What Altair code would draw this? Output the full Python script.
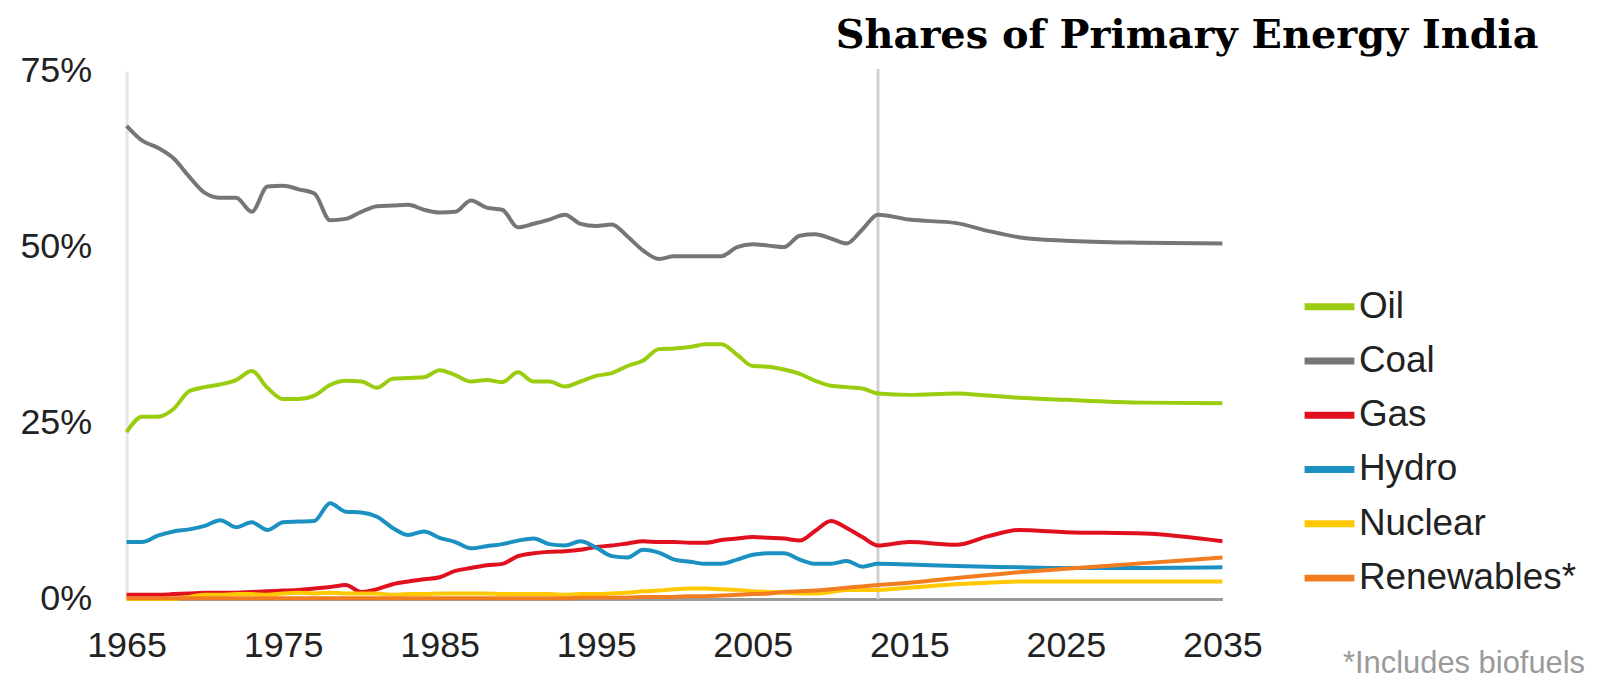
import altair as alt
import pandas as pd

TITLE = "Shares of Primary Energy India"
NOTE = "*Includes biofuels"

series_names = ["Oil", "Coal", "Gas", "Hydro", "Nuclear", "Renewables*"]
series_colors = ["#9ACD0F", "#767676", "#E0101E", "#1B91C2", "#FFC800", "#F27C20"]

hist_years = list(range(1965, 2014))
proj_years = [2015, 2018, 2020, 2022, 2025, 2030, 2035]

oil_hist = [23.7, 25.9, 25.9, 27.0, 29.5, 30.1, 30.5, 31.1, 32.4, 30.0,
            28.4, 28.4, 28.9, 30.4, 31.0, 30.9, 30.0, 31.3, 31.4, 31.5,
            32.5, 31.8, 30.9, 31.1, 30.8, 32.2, 30.9, 30.9, 30.2, 30.9,
            31.7, 32.1, 33.1, 33.9, 35.5, 35.6, 35.8, 36.2, 36.2, 34.7,
            33.1, 33.0, 32.6, 32.0, 31.0, 30.3, 30.1, 29.9, 29.2]
coal_hist = [67.2, 65.1, 64.1, 62.6, 60.0, 57.7, 57.0, 57.0, 55.0, 58.6,
             58.7, 58.2, 57.6, 53.8, 54.0, 55.0, 55.8, 55.9, 56.0, 55.3,
             54.9, 55.0, 56.6, 55.6, 55.3, 52.8, 53.3, 53.9, 54.6, 53.3,
             53.0, 53.2, 51.5, 49.5, 48.3, 48.7, 48.7, 48.7, 48.7, 50.0,
             50.4, 50.2, 50.0, 51.6, 51.8, 51.2, 50.5, 52.5, 54.6]
gas_hist = [0.6, 0.6, 0.6, 0.7, 0.8, 0.9, 0.9, 0.9, 1.0, 1.1,
            1.2, 1.3, 1.5, 1.7, 2.0, 1.0, 1.4, 2.1, 2.5, 2.8,
            3.1, 4.0, 4.4, 4.8, 5.0, 6.1, 6.5, 6.7, 6.8, 7.0,
            7.4, 7.6, 7.9, 8.2, 8.1, 8.1, 8.0, 8.0, 8.4, 8.6,
            8.8, 8.7, 8.6, 8.3, 9.7, 11.1, 10.1, 8.8, 7.6]
hydro_hist = [8.1, 8.1, 9.0, 9.6, 9.9, 10.4, 11.2, 10.2, 10.9, 9.8,
              10.9, 11.0, 11.1, 13.6, 12.4, 12.3, 11.7, 10.1, 9.1, 9.6,
              8.7, 8.1, 7.2, 7.5, 7.8, 8.3, 8.6, 7.8, 7.6, 8.2,
              7.3, 6.1, 5.9, 7.0, 6.6, 5.6, 5.3, 5.0, 5.0, 5.6,
              6.3, 6.5, 6.5, 5.6, 5.0, 5.0, 5.4, 4.6, 5.0]
nuclear_hist = [0.0, 0.0, 0.0, 0.0, 0.3, 0.6, 0.6, 0.7, 0.7, 0.6,
                0.8, 0.9, 0.8, 0.9, 0.8, 0.8, 0.8, 0.6, 0.7, 0.7,
                0.8, 0.8, 0.8, 0.8, 0.7, 0.7, 0.7, 0.7, 0.6, 0.7,
                0.7, 0.8, 0.9, 1.1, 1.2, 1.4, 1.5, 1.5, 1.4, 1.3,
                1.1, 1.0, 0.9, 0.8, 0.8, 1.0, 1.3, 1.3, 1.3]
renew_hist = [0.1, 0.1, 0.1, 0.1, 0.1, 0.1, 0.1, 0.1, 0.1, 0.1,
              0.1, 0.1, 0.1, 0.1, 0.1, 0.1, 0.1, 0.1, 0.1, 0.1,
              0.1, 0.1, 0.1, 0.1, 0.1, 0.1, 0.1, 0.1, 0.1, 0.2,
              0.2, 0.2, 0.2, 0.3, 0.3, 0.3, 0.4, 0.4, 0.5, 0.6,
              0.7, 0.8, 1.0, 1.1, 1.2, 1.4, 1.6, 1.8, 2.0]

oil_proj = [29.0, 29.2, 28.9, 28.6, 28.3, 27.9, 27.8]
coal_proj = [53.9, 53.4, 52.3, 51.4, 50.9, 50.6, 50.5]
gas_proj = [8.1, 7.7, 8.9, 9.8, 9.5, 9.3, 8.2]
hydro_proj = [4.9, 4.7, 4.6, 4.5, 4.4, 4.4, 4.5]
nuclear_proj = [1.6, 2.1, 2.3, 2.5, 2.5, 2.5, 2.5]
renew_proj = [2.3, 3.0, 3.4, 3.8, 4.3, 5.1, 5.9]

last_actual_year = [2013]
x_ticks = [1965, 1975, 1985, 1995, 2005, 2015, 2025, 2035]
y_ticks = [0, 25, 50, 75]

hist = [oil_hist, coal_hist, gas_hist, hydro_hist, nuclear_hist, renew_hist]
proj = [oil_proj, coal_proj, gas_proj, hydro_proj, nuclear_proj, renew_proj]

rows = []
for i, name in enumerate(series_names):
    for yr, v in zip(hist_years, hist[i]):
        rows.append({"year": yr, "share": v, "fuel": name})
    for yr, v in zip(proj_years, proj[i]):
        rows.append({"year": yr, "share": v, "fuel": name})
df = pd.DataFrame(rows)

FONT = "Liberation Sans"

x_scale = alt.Scale(domain=[1965, 2035], nice=False, zero=False)
y_scale = alt.Scale(domain=[0, 75], nice=False)

rule = alt.Chart(pd.DataFrame({"year": last_actual_year})).mark_rule(
    color="#cfcfcf", strokeWidth=3
).encode(
    x=alt.X("year:Q", scale=x_scale),
    y=alt.value(-2),
    y2=alt.value(530),
)

lines = alt.Chart(df).mark_line(strokeWidth=4, interpolate="monotone").encode(
    x=alt.X(
        "year:Q", scale=x_scale, title=None,
        axis=alt.Axis(values=x_ticks, format="d", labelFont=FONT, labelFontSize=36,
                      labelColor="#222222", labelPadding=30, ticks=False, grid=False,
                      domainColor="#9a9a9a", domainWidth=3, labelFlush=False),
    ),
    y=alt.Y(
        "share:Q", scale=y_scale, title=None,
        axis=alt.Axis(values=y_ticks, labelExpr="datum.value + '%'", labelFont=FONT,
                      labelFontSize=36, labelColor="#222222", labelPadding=35,
                      ticks=False, grid=False, domainColor="#e6e6e6", domainWidth=3,
                      labelFlush=False),
    ),
    color=alt.Color(
        "fuel:N",
        scale=alt.Scale(domain=series_names, range=series_colors),
        legend=alt.Legend(
            title=None, orient="none", legendX=1179, legendY=208,
            symbolType="stroke", symbolSize=2500, symbolStrokeWidth=7,
            labelFont=FONT, labelFontSize=37, labelColor="#222222",
            labelOffset=1, rowPadding=7.5, padding=0, labelLimit=400,
        ),
    ),
    detail="fuel:N",
    order=alt.Order("year:Q"),
)

title = alt.Chart(pd.DataFrame({"t": [TITLE]})).mark_text(
    align="left", baseline="alphabetic", font="DejaVu Serif",
    fontSize=40, fontWeight="bold", color="#000000",
).encode(text="t:N", x=alt.value(712), y=alt.value(-23))

note = alt.Chart(pd.DataFrame({"t": [NOTE]})).mark_text(
    align="right", baseline="alphabetic", font=FONT,
    fontSize=31, color="#9a9a9a",
).encode(text="t:N", x=alt.value(1464), y=alt.value(604))

chart = alt.layer(rule, lines, title, note).properties(
    width=1100, height=530,
    background="#ffffff",
    autosize=alt.AutoSizeParams(type="none"),
    padding={"left": 119, "top": 62, "right": 370, "bottom": 82},
).configure_view(strokeWidth=0)

chart.save("out.html", embed_options={"renderer": "svg", "actions": False})
